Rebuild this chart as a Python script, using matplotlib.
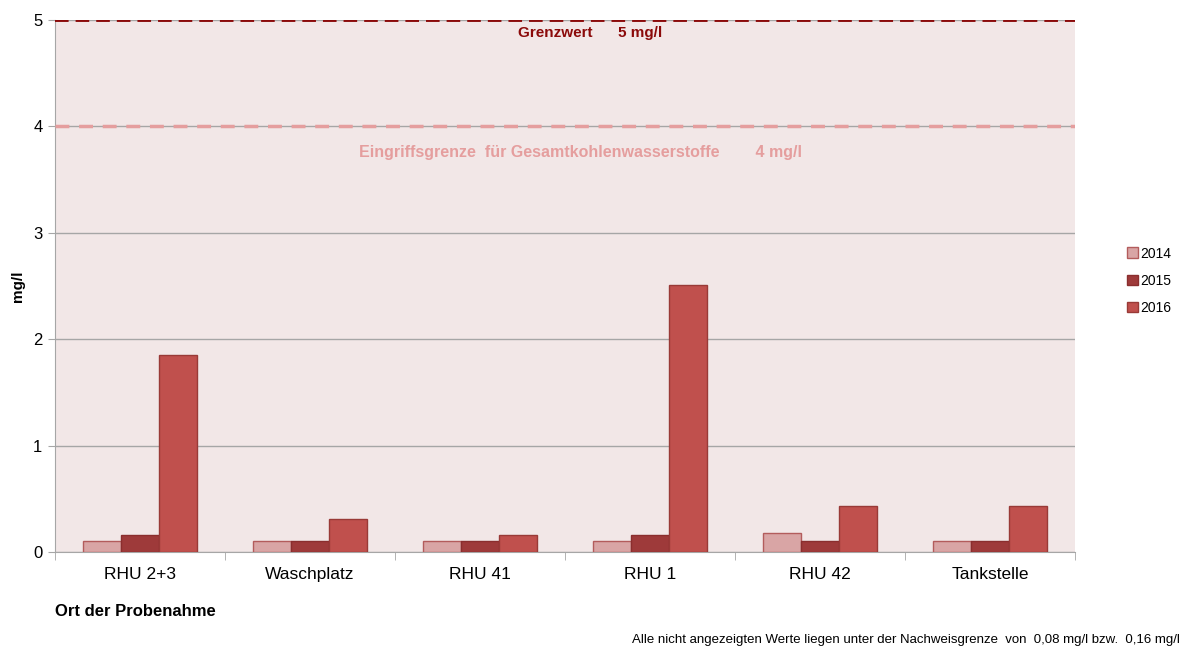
import matplotlib
matplotlib.use("Agg")
import matplotlib.pyplot as plt
import numpy as np

plt.rcParams['font.family'] = ['Liberation Sans', 'DejaVu Sans']

categories = ["RHU 2+3", "Waschplatz", "RHU 41", "RHU 1", "RHU 42", "Tankstelle"]
years = ["2014", "2015", "2016"]
v2014 = [0.10, 0.10, 0.10, 0.10, 0.18, 0.10]
v2015 = [0.16, 0.10, 0.10, 0.16, 0.10, 0.10]
v2016 = [1.85, 0.31, 0.16, 2.51, 0.43, 0.43]
grenzwert = 5.0
eingriff = 4.0

face_colors = ["#D9A5A5", "#9E3A3A", "#C0504D"]
edge_colors = ["#B35C5C", "#8A2E2E", "#993A37"]

fig = plt.figure(figsize=(11.84, 6.48), dpi=100)
ax = fig.add_axes([55/1184, 1-552/648, (1075-55)/1184, (552-20)/648])
ax.set_facecolor("#F2E7E7")

x = np.arange(len(categories))
w = 0.222
for i, (vals, fc, ec, yr) in enumerate(zip([v2014, v2015, v2016], face_colors, edge_colors, years)):
    ax.bar(x + (i - 1) * w, vals, width=w, color=fc, edgecolor=ec, linewidth=1.0, label=yr, zorder=3)

ax.set_xlim(-0.5, len(categories) - 0.5)
ax.set_ylim(0, 5)
ax.set_yticks([0, 1, 2, 3, 4, 5])
ax.yaxis.grid(True, color="#A6A6A6", linewidth=1.0, zorder=1)
ax.set_axisbelow(True)

ax.axhline(grenzwert, color="#8B0A0A", linestyle=(0, (3.5, 1.8)), linewidth=2.8, zorder=4)
ax.axhline(eingriff, color="#E59E9E", linestyle=(0, (4, 2.8)), linewidth=2.5, zorder=4)

ax.text(2.647, grenzwert - 0.12, "Grenzwert      5 mg/l", color="#8B0A0A", fontsize=11,
        fontweight="bold", ha="center", va="center", zorder=5)
ax.text(2.594, eingriff - 0.25, "Eingriffsgrenze  für Gesamtkohlenwasserstoffe        4 mg/l",
        color="#E59E9E", fontsize=11.5, fontweight="bold", ha="center", va="center", zorder=5)

ax.set_xticks(x)
ax.set_xticklabels(categories, fontsize=12.5)
ax.tick_params(axis="x", length=0, pad=11)
ax.set_xticks(np.arange(-0.5, len(categories)), minor=True)
ax.tick_params(axis="x", which="minor", length=6, color="#A6A6A6", direction="out")
ax.tick_params(axis="y", length=5, color="#A6A6A6", labelsize=12, pad=4)

for s in ["top", "right"]:
    ax.spines[s].set_visible(False)
ax.spines["left"].set_color("#A6A6A6")
ax.spines["bottom"].set_color("#A6A6A6")

ax.set_ylabel("mg/l", fontsize=11, fontweight="bold", labelpad=14)
ax.yaxis.set_label_coords(-30/1020, 0.5)

leg = fig.legend(loc="upper left", bbox_to_anchor=(1114/1184, 1-234/648), frameon=False,
                 fontsize=10, handlelength=0.8, handleheight=0.8, handletextpad=0.2,
                 labelspacing=0.95)

fig.text(55/1184, 1-612/648, "Ort der Probenahme", fontsize=12, fontweight="bold",
         ha="left", va="center")
fig.text(1180/1184, 1-640/648,
         "Alle nicht angezeigten Werte liegen unter der Nachweisgrenze  von  0,08 mg/l bzw.  0,16 mg/l",
         fontsize=9.5, ha="right", va="center")

fig.savefig("out.png", dpi=100)
